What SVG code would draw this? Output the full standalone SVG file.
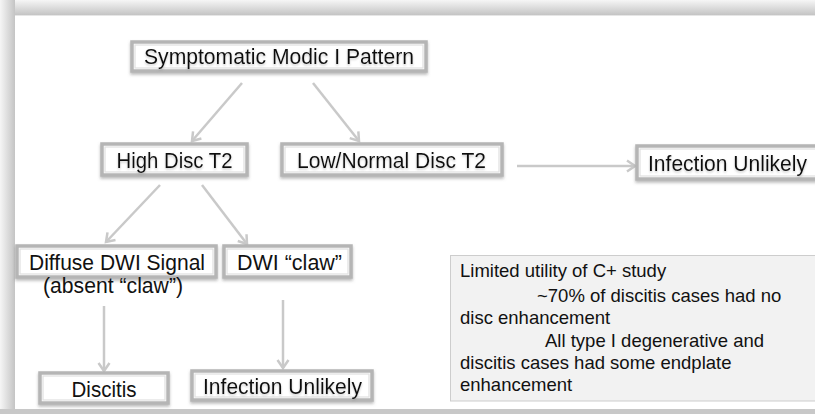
<svg xmlns="http://www.w3.org/2000/svg" width="815" height="414" viewBox="0 0 815 414">
<style>
.box{fill:#ffffff;stroke:#b5b5b5;stroke-width:3.5}
.inner{fill:none;stroke:#e0e0e0;stroke-width:1.2}
.lbl{font-family:"Liberation Sans",Arial,sans-serif;font-size:22px;fill:#111;text-anchor:middle}
.info{font-family:"Liberation Sans",Arial,sans-serif;font-size:18.5px;fill:#111}
.con{stroke:#c9c9c9;stroke-width:2.5;fill:none;marker-end:url(#ah)}
</style>
<defs>
<linearGradient id="gt" x1="0" y1="0" x2="0" y2="1"><stop offset="0" stop-color="#f6f6f6"/><stop offset="1" stop-color="#c4c4c4"/></linearGradient>
<linearGradient id="gl" x1="0" y1="0" x2="1" y2="0"><stop offset="0" stop-color="#f6f6f6"/><stop offset="1" stop-color="#c4c4c4"/></linearGradient>
<filter id="sh" x="-10%" y="-30%" width="120%" height="170%"><feDropShadow dx="0" dy="2" stdDeviation="1.6" flood-color="#777" flood-opacity="0.5"/></filter>
<filter id="ts" x="-5%" y="-30%" width="110%" height="170%"><feDropShadow dx="0" dy="1.5" stdDeviation="1.2" flood-color="#888" flood-opacity="0.45"/></filter>
<marker id="ah" markerUnits="userSpaceOnUse" markerWidth="14" markerHeight="14" viewBox="0 0 14 14" refX="11" refY="7" orient="auto"><path d="M3,1.5 L11,7 L3,12.5" fill="none" stroke="#c9c9c9" stroke-width="2.5"/></marker>
</defs>
<rect x="0" y="0" width="815" height="414" fill="#ffffff"/>
<rect x="0" y="0" width="815" height="15" fill="url(#gt)"/>
<rect x="0" y="0" width="15" height="414" fill="url(#gl)"/>
<rect x="0" y="409" width="815" height="5" fill="#c8c8c8"/>
<rect x="15" y="15" width="800" height="1" fill="#e6e6e6"/>

<g id="info">
<rect x="450.5" y="255.5" width="380" height="145.5" fill="#f2f2f2" stroke="#cdcdcd" stroke-width="1"/>
<text class="info" x="460" y="277">Limited utility of C+ study</text>
<text class="info" x="537" y="302">~70% of discitis cases had no</text>
<text class="info" x="460" y="323.5">disc enhancement</text>
<text class="info" x="545" y="347">All type I degenerative and</text>
<text class="info" x="460" y="369">discitis cases had some endplate</text>
<text class="info" x="460" y="390.5">enhancement</text>
</g>

<g id="connectors">
<line class="con" x1="242" y1="83" x2="192" y2="141"/>
<line class="con" x1="313" y1="83" x2="359" y2="141"/>
<line class="con" x1="160" y1="185" x2="106" y2="242"/>
<line class="con" x1="202" y1="185" x2="247" y2="244"/>
<line class="con" x1="517" y1="166" x2="635" y2="166"/>
<line class="con" x1="104" y1="306" x2="104" y2="371"/>
<line class="con" x1="283" y1="300" x2="283" y2="368"/>
</g>

<g id="n-symptomatic">
<rect class="box" x="132" y="42" width="294" height="29" filter="url(#sh)"/>
<rect class="inner" x="135" y="45" width="288" height="23"/>
<text class="lbl" x="279" y="64" textLength="270" lengthAdjust="spacingAndGlyphs" filter="url(#ts)">Symptomatic Modic I Pattern</text>
</g>
<g id="n-high">
<rect class="box" x="102" y="144" width="145" height="31" filter="url(#sh)"/>
<rect class="inner" x="105" y="147" width="139" height="25"/>
<text class="lbl" x="174.5" y="167.5" textLength="116" lengthAdjust="spacingAndGlyphs" filter="url(#ts)">High Disc T2</text>
</g>
<g id="n-low">
<rect class="box" x="282" y="144" width="220" height="31" filter="url(#sh)"/>
<rect class="inner" x="285" y="147" width="214" height="25"/>
<text class="lbl" x="391.5" y="167.5" textLength="189" lengthAdjust="spacingAndGlyphs" filter="url(#ts)">Low/Normal Disc T2</text>
</g>
<g id="n-infection-top">
<rect class="box" x="637" y="146" width="200" height="33" filter="url(#sh)"/>
<rect class="inner" x="640" y="149" width="194" height="27"/>
<text class="lbl" x="727.5" y="170.5" textLength="159" lengthAdjust="spacingAndGlyphs" filter="url(#ts)">Infection Unlikely</text>
</g>
<g id="n-diffuse">
<rect class="box" x="17" y="246" width="199" height="31" filter="url(#sh)"/>
<rect class="inner" x="20" y="249" width="193" height="25"/>
<text class="lbl" x="117" y="269.5" textLength="176" lengthAdjust="spacingAndGlyphs">Diffuse DWI Signal</text>
<text class="lbl" x="113" y="292.5" textLength="140" lengthAdjust="spacingAndGlyphs">(absent “claw”)</text>
</g>
<g id="n-claw">
<rect class="box" x="224" y="246" width="127" height="31" filter="url(#sh)"/>
<rect class="inner" x="227" y="249" width="121" height="25"/>
<text class="lbl" x="289.5" y="269.5" textLength="105" lengthAdjust="spacingAndGlyphs">DWI “claw”</text>
</g>
<g id="n-discitis">
<rect class="box" x="40" y="373" width="128" height="30" filter="url(#sh)"/>
<rect class="inner" x="43" y="376" width="122" height="24"/>
<text class="lbl" x="104" y="396.5" textLength="65" lengthAdjust="spacingAndGlyphs">Discitis</text>
</g>
<g id="n-infection-bottom">
<rect class="box" x="192" y="371" width="180" height="29" filter="url(#sh)"/>
<rect class="inner" x="195" y="374" width="174" height="23"/>
<text class="lbl" x="282.5" y="394" textLength="159" lengthAdjust="spacingAndGlyphs" filter="url(#ts)">Infection Unlikely</text>
</g>
</svg>
